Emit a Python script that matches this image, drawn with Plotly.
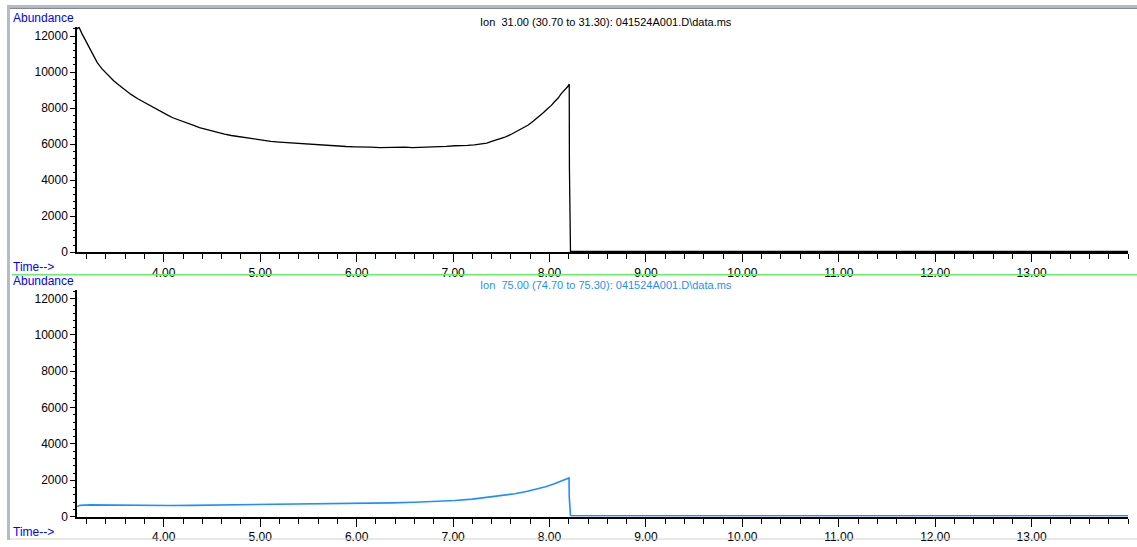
import plotly.graph_objects as go

W, H = 1137, 547

# ---------------- data ----------------
ion31_time = [3.10, 3.12, 3.15, 3.20, 3.25, 3.31, 3.36, 3.40, 3.48, 3.54, 3.60, 3.66, 3.73,
              3.79, 3.85, 3.91, 3.97, 4.04, 4.10, 4.17, 4.25, 4.31, 4.37, 4.43, 4.49,
              4.56, 4.63, 4.70, 4.77, 4.86, 4.95, 5.03, 5.11, 5.20, 5.30, 5.38, 5.46,
              5.55, 5.63, 5.72, 5.80, 5.89, 5.98, 6.06, 6.15, 6.24, 6.32, 6.41, 6.50,
              6.58, 6.67, 6.76, 6.85, 6.93, 7.02, 7.08, 7.15, 7.22, 7.29, 7.35, 7.40,
              7.47, 7.53, 7.59, 7.65, 7.72, 7.78, 7.83, 7.88, 7.93, 7.98, 8.02, 8.05,
              8.09, 8.12, 8.15, 8.17, 8.19, 8.205, 8.207, 8.218, 8.24, 9.0, 10.0,
              11.0, 12.0, 13.0, 14.0]
ion31_abund = [12390, 12500, 12150, 11630, 11170, 10530, 10180, 9950, 9520, 9250, 8980, 8760, 8520,
               8340, 8140, 7960, 7790, 7610, 7450, 7300, 7150, 7040, 6920, 6830, 6730,
               6640, 6560, 6480, 6420, 6340, 6270, 6210, 6150, 6110, 6070, 6040, 6020,
               5980, 5960, 5930, 5900, 5870, 5850, 5860, 5830, 5810, 5820, 5800, 5840,
               5810, 5820, 5830, 5860, 5880, 5910, 5900, 5930, 5960, 6000, 6060, 6150,
               6250, 6370, 6510, 6680, 6860, 7060, 7270, 7480, 7720, 7970, 8150, 8340,
               8560, 8790, 8950, 9080, 9200, 9340, 4650, 40, 40, 45, 40,
               45, 40, 45, 40]

ion75_time = [3.10, 3.13, 3.24, 3.40, 3.60, 3.80, 4.07, 4.30, 4.50, 4.77, 5.00, 5.30,
              5.63, 5.90, 6.10, 6.36, 6.60, 6.80, 7.02, 7.20, 7.36, 7.50, 7.64, 7.76,
              7.88, 7.96, 8.05, 8.12, 8.203, 8.205, 8.218, 8.25, 9.0, 10.0, 11.0, 12.0,
              13.0, 14.0]
ion75_abund = [556, 620, 644, 630, 620, 615, 611, 620, 630, 644, 650, 665,
               683, 700, 720, 756, 790, 830, 889, 960, 1056, 1150, 1256, 1380,
               1517, 1640, 1811, 1960, 2128, 1100, 45, 40, 45, 40, 45, 40,
               45, 40]

x_tick_vals = [4, 5, 6, 7, 8, 9, 10, 11, 12, 13]
x_tick_text = ["4.00", "5.00", "6.00", "7.00", "8.00", "9.00", "10.00", "11.00", "12.00", "13.00"]
y_tick_vals = [0, 2000, 4000, 6000, 8000, 10000, 12000]
y_tick_text = ["0", "2000", "4000", "6000", "8000", "10000", "12000"]

title_top = "Ion\u00a0\u00a031.00 (30.70 to 31.30): 041524A001.D\\data.ms"
title_bot = "Ion\u00a0\u00a075.00 (74.70 to 75.30): 041524A001.D\\data.ms"

# ---------------- helpers ----------------
def px_x(x):
    return x / W

def px_y(y):
    return 1 - y / H

FONT = "Liberation Sans, Arial, sans-serif"
BLUE_TXT = "#0000ff"
TRACE_BLUE = "#1f8fff"

fig = go.Figure()
fig.add_trace(go.Scatter(x=ion31_time, y=ion31_abund, mode="lines",
                         line=dict(color="black", width=1.3), xaxis="x", yaxis="y",
                         showlegend=False, hoverinfo="skip"))
fig.add_trace(go.Scatter(x=ion75_time, y=ion75_abund, mode="lines",
                         line=dict(color=TRACE_BLUE, width=1.6), xaxis="x2", yaxis="y2",
                         showlegend=False, hoverinfo="skip"))

x_dom = [px_x(77), px_x(1128)]
top_dom = [px_y(255.5), px_y(27.4)]
bot_dom = [px_y(523.3), px_y(293.3)]

def xaxis_cfg(anchor):
    return dict(domain=x_dom, range=[3.1, 14.0], anchor=anchor,
                showline=True, linecolor="black", linewidth=2,
                tickmode="array", tickvals=x_tick_vals, ticktext=x_tick_text,
                ticks="outside", ticklen=8, tickwidth=1, tickcolor="black",
                minor=dict(tickmode="linear", tick0=0, dtick=0.2, ticks="outside",
                           ticklen=5, tickwidth=1, tickcolor="black", showgrid=False),
                showgrid=False, zeroline=False,
                tickfont=dict(family=FONT, size=12, color="black"))

def yaxis_cfg(anchor, dom):
    return dict(domain=dom, range=[0, 12500], anchor=anchor,
                showline=True, linecolor="black", linewidth=1.5,
                tickmode="array", tickvals=y_tick_vals, ticktext=y_tick_text,
                ticks="outside", ticklen=5, tickwidth=1, tickcolor="black",
                minor=dict(tickmode="linear", tick0=0, dtick=400, ticks="outside",
                           ticklen=2, tickwidth=1, tickcolor="black", showgrid=False),
                showgrid=False, zeroline=False,
                tickfont=dict(family=FONT, size=12, color="black"))

fig.update_layout(
    width=W, height=H, autosize=False,
    margin=dict(l=0, r=0, t=0, b=0, pad=0),
    paper_bgcolor="white", plot_bgcolor="white",
    xaxis=xaxis_cfg("y"), yaxis=yaxis_cfg("x", top_dom),
    xaxis2=xaxis_cfg("y2"), yaxis2=yaxis_cfg("x2", bot_dom),
)

def note(text, x, y, color, size=12, xanchor="left"):
    fig.add_annotation(text=text, x=px_x(x), y=px_y(y), xref="paper", yref="paper",
                       xanchor=xanchor, yanchor="middle", showarrow=False,
                       font=dict(family=FONT, size=size, color=color))

note("Abundance", 11, 18, BLUE_TXT)
note(title_top, 606, 22, "black", size=11, xanchor="center")
note("Time-->", 11, 270.5, BLUE_TXT)
note("Abundance", 11, 285, BLUE_TXT)
note(title_bot, 606, 289, TRACE_BLUE, size=11, xanchor="center")
note("Time-->", 11, 539, BLUE_TXT)

# separator and window frame
shapes = [
    dict(type="line", xref="paper", yref="paper", x0=px_x(12), x1=1, y0=px_y(278.3), y1=px_y(278.3),
         line=dict(color="#66ee66", width=1.5)),
    dict(type="rect", xref="paper", yref="paper", x0=px_x(7), x1=px_x(10), y0=0, y1=px_y(6),
         fillcolor="#b4bccb", line=dict(width=0)),
    dict(type="rect", xref="paper", yref="paper", x0=px_x(7), x1=1, y0=px_y(8), y1=px_y(5),
         fillcolor="#b4bccb", line=dict(width=0)),
    dict(type="line", xref="paper", yref="paper", x0=px_x(10), x1=1, y0=px_y(8.5), y1=px_y(8.5),
         line=dict(color="#7a7a7a", width=1)),
    dict(type="line", xref="paper", yref="paper", x0=px_x(10), x1=1, y0=px_y(546), y1=px_y(546),
         line=dict(color="#d0d0d0", width=1)),
]
fig.update_layout(shapes=shapes)

fig.write_html("out.html", config={"responsive": False})
